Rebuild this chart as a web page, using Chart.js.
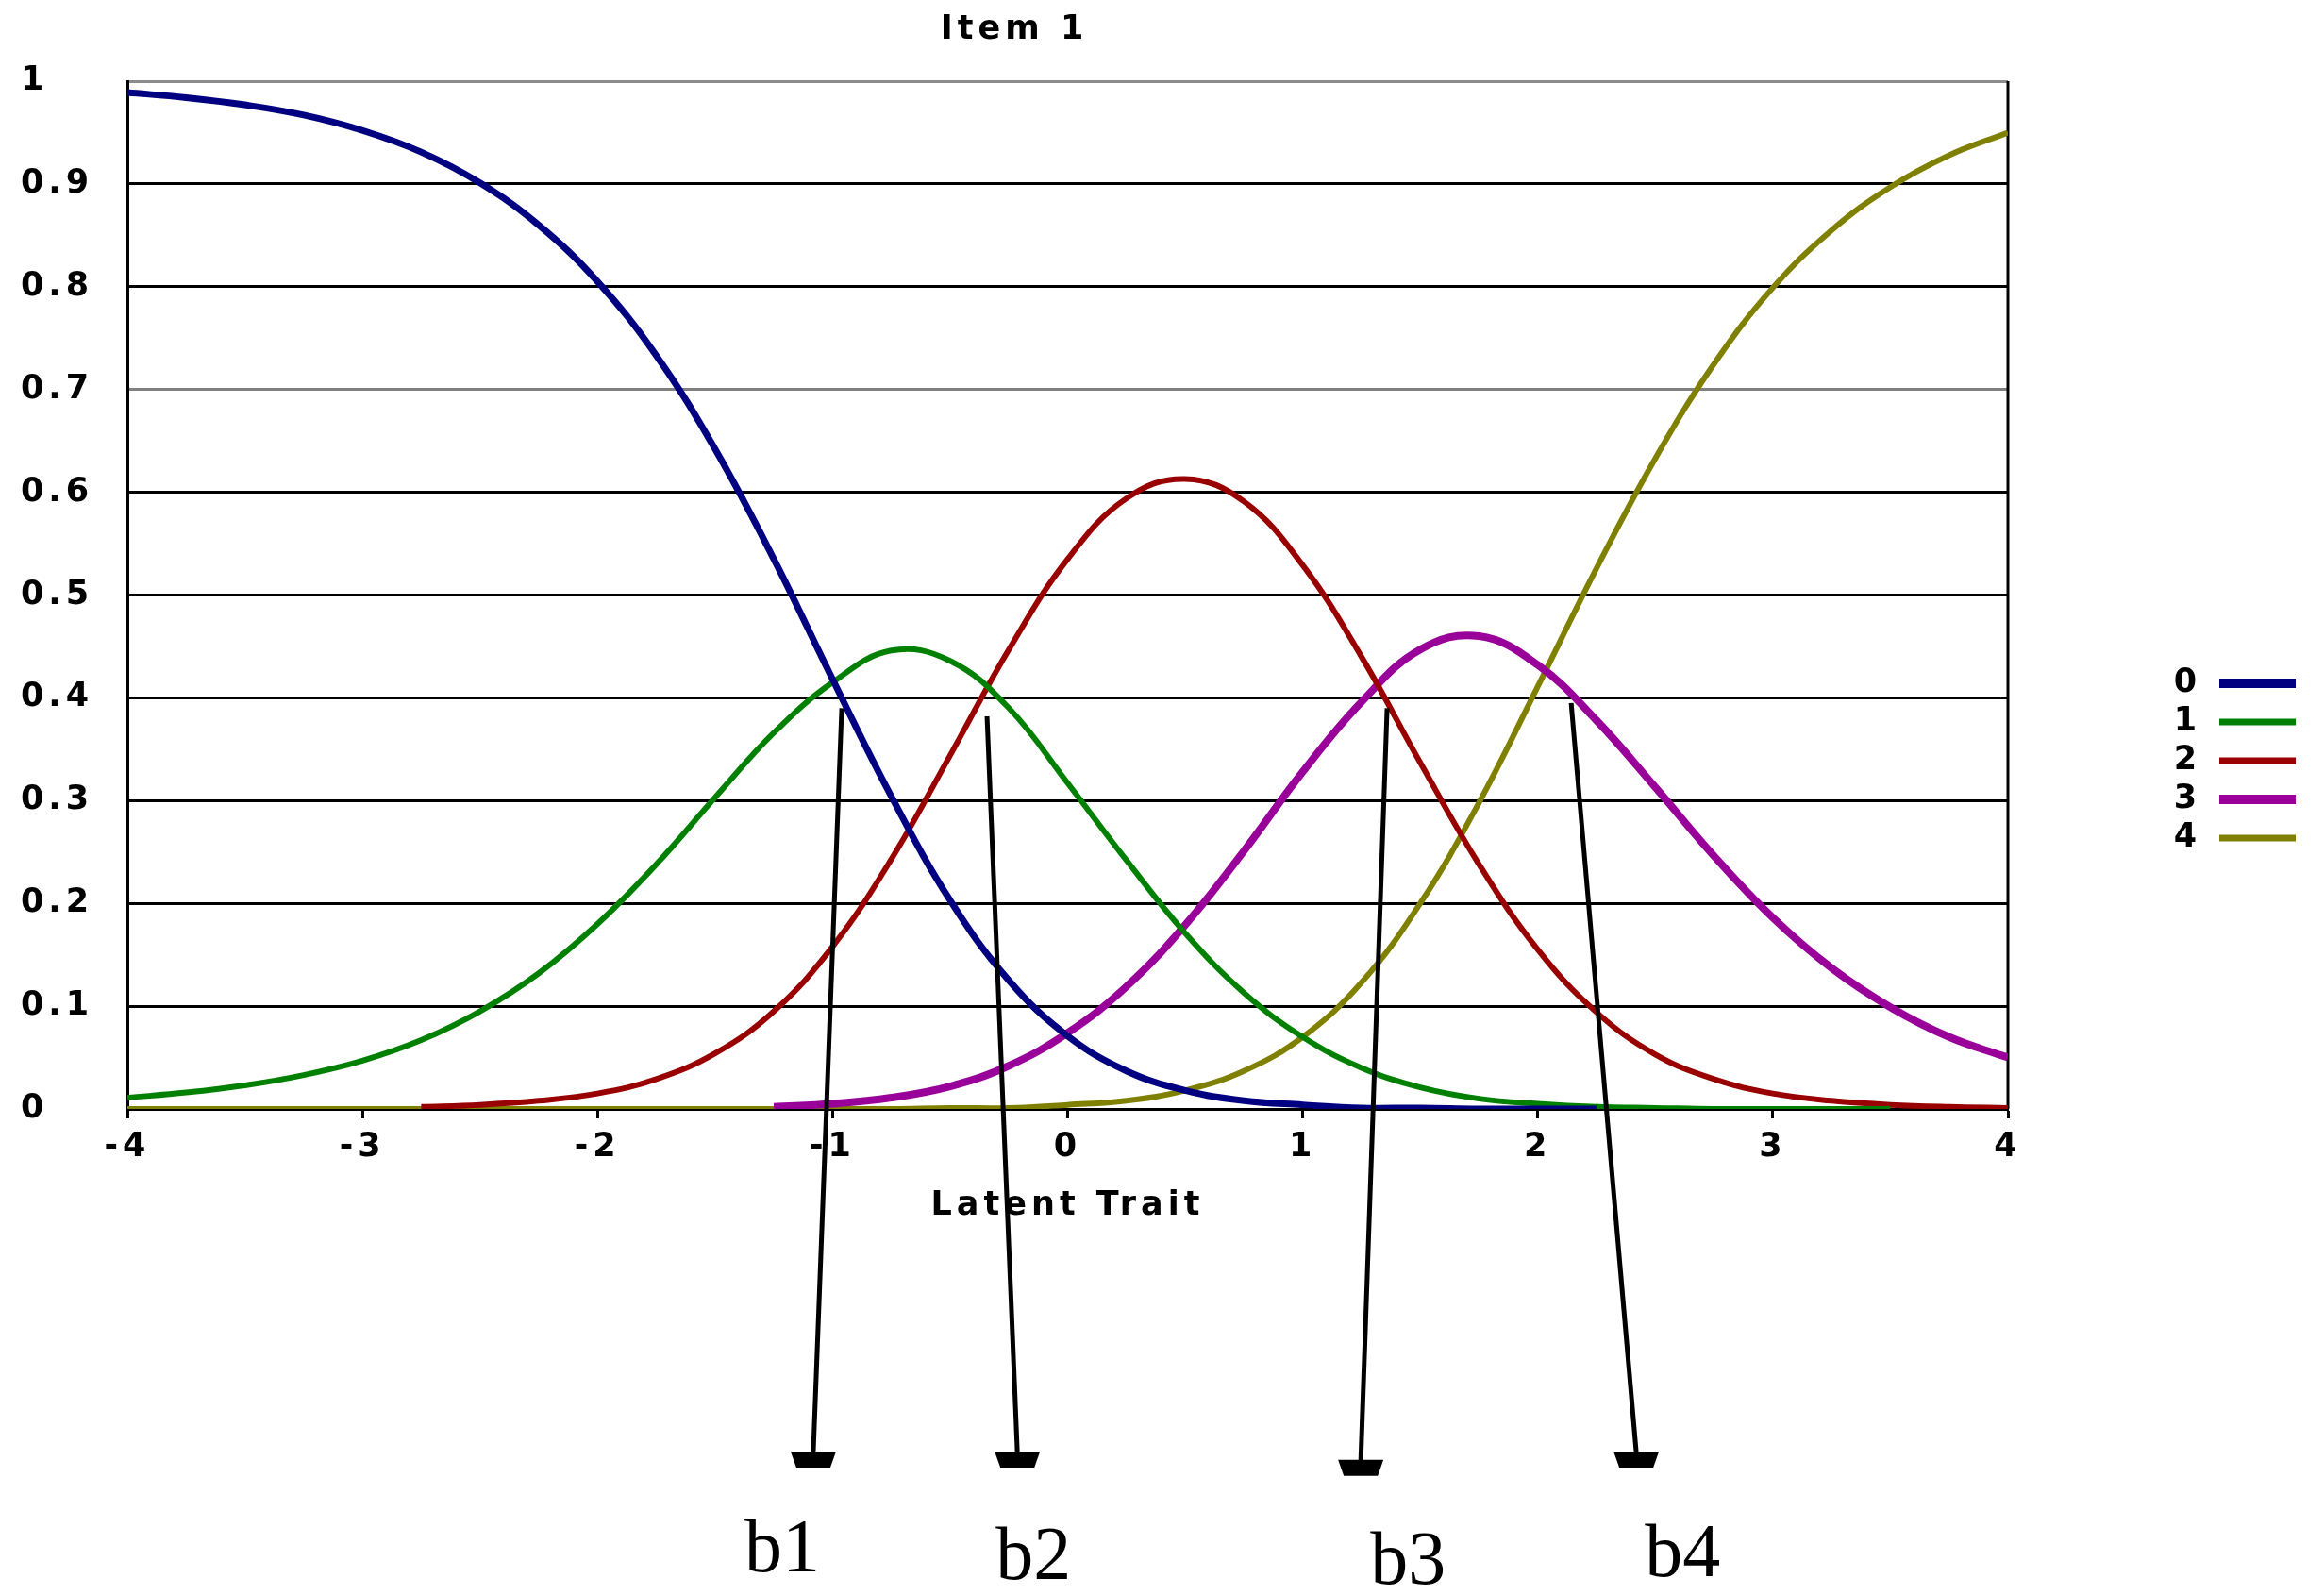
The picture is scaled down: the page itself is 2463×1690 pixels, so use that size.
<!DOCTYPE html>
<html>
<head>
<meta charset="utf-8">
<title>Item 1</title>
<script src="https://cdn.jsdelivr.net/npm/chart.js@4.4.1/dist/chart.umd.min.js"></script>
<style>
  html, body { margin: 0; padding: 0; background: #fff; }
  canvas { display: block; }
</style>
</head>
<body>
<canvas id="itemChart" width="2463" height="1690"></canvas>
<script>
// latent trait grid and category probabilities
const thetas = [-4, -3.75, -3.5, -3.25, -3, -2.75, -2.5, -2.25, -2, -1.75, -1.5, -1.25, -1, -0.75, -0.5, -0.25,
  0, 0.25, 0.5, 0.75, 1, 1.25, 1.5, 1.75, 2, 2.25, 2.5, 2.75, 3, 3.25, 3.5, 3.75, 4];

const cat0 = [0.989, 0.984, 0.977, 0.967, 0.952, 0.931, 0.901, 0.860, 0.805, 0.733, 0.642, 0.535, 0.418, 0.304, 0.203, 0.125,
  0.071, 0.037, 0.018, 0.008, 0.004, 0.001, 0.001, 0, 0, 0, null, null, null, null, null, null, null];
const cat1 = [0.011, 0.016, 0.023, 0.033, 0.047, 0.067, 0.095, 0.132, 0.180, 0.238, 0.303, 0.366, 0.415, 0.446, 0.436, 0.390,
  0.317, 0.242, 0.171, 0.113, 0.070, 0.040, 0.021, 0.010, 0.005, 0.002, 0.001, 0, 0, 0, 0, null, null];
const cat2 = [null, null, null, null, null, 0.002, 0.004, 0.008, 0.015, 0.029, 0.054, 0.095, 0.158, 0.243, 0.344, 0.447,
  0.535, 0.594, 0.613, 0.591, 0.529, 0.440, 0.337, 0.238, 0.155, 0.094, 0.053, 0.029, 0.015, 0.008, 0.004, 0.002, 0.001];
const cat3 = [null, null, null, null, null, null, null, null, null, null, null, 0.002, 0.005, 0.011, 0.022, 0.042,
  0.074, 0.119, 0.179, 0.251, 0.328, 0.396, 0.447, 0.460, 0.432, 0.378, 0.313, 0.246, 0.186, 0.137, 0.099, 0.070, 0.050];
const cat4 = [0, 0, 0, 0, 0, 0, 0, 0, 0, 0, 0, 0, 0, 0, 0.001, 0.001,
  0.004, 0.008, 0.018, 0.037, 0.070, 0.123, 0.200, 0.298, 0.411, 0.526, 0.633, 0.725, 0.799, 0.855, 0.897, 0.928, 0.950];

const seriesLabels = ['0', '1', '2', '3', '4'];
const xTickLabels = ['-4', '-3', '-2', '-1', '0', '1', '2', '3', '4'];
const yTickLabels = ['0', '0.1', '0.2', '0.3', '0.4', '0.5', '0.6', '0.7', '0.8', '0.9', '1'];

// threshold annotations (b1..b4), in axis units
const thresholdNames = ['b1', 'b2', 'b3', 'b4'];
const arrowFromX = [-0.961, -0.343, 1.359, 2.142];
const arrowFromY = [0.390, 0.382, 0.390, 0.395];
const arrowToX = [-1.082, -0.214, 1.247, 2.419];
const arrowToY = [-0.349, -0.349, -0.357, -0.349];
const nameX = [-1.214, -0.146, 1.448, 2.616];
const nameY = [-0.450, -0.457, -0.462, -0.455];

const lineColors = ['#000080', '#008000', '#990000', '#990099', '#808000'];
const lineWidths = [7, 6, 6, 8, 6];
const legendWidths = [10, 7, 7, 10, 7];
const uiFont = { family: 'DejaVu Sans', size: 35, weight: 'bold' };

const series = [cat0, cat1, cat2, cat3, cat4];
const datasets = series.map(function(vals, i) {
    return {
        label: seriesLabels[i],
        data: thetas.map(function(t, j) { return { x: t, y: vals[j] }; }),
        borderColor: lineColors[i],
        backgroundColor: lineColors[i],
        borderWidth: lineWidths[i],
        pointRadius: 0,
        tension: 0.4,
        fill: false
    };
});

function gridColor(v) {
    if (Math.abs(v - 0.7) < 1e-6) return '#808080';
    if (Math.abs(v - 1) < 1e-6) return '#8c8c8c';
    return '#000';
}

const wideText = {
    id: 'wideText',
    beforeLayout(chart) { chart.ctx.letterSpacing = '5px'; },
    beforeDraw(chart) { chart.ctx.letterSpacing = '5px'; }
};

const frame = {
    id: 'frame',
    beforeDatasetsDraw(chart) {
        const ctx = chart.ctx, a = chart.chartArea;
        ctx.save();
        ctx.strokeStyle = '#000';
        ctx.lineWidth = 3;
        ctx.beginPath();
        ctx.moveTo(a.right, a.top);
        ctx.lineTo(a.right, a.bottom);
        ctx.stroke();
        ctx.restore();
    }
};

const sideLegend = {
    id: 'sideLegend',
    afterDraw(chart) {
        const ctx = chart.ctx;
        ctx.save();
        ctx.letterSpacing = '0px';
        ctx.font = 'bold 35px "DejaVu Sans"';
        ctx.textAlign = 'center';
        ctx.textBaseline = 'middle';
        chart.data.datasets.forEach(function(ds, i) {
            const y = 724 + i * 41;
            ctx.fillStyle = '#000';
            ctx.fillText(ds.label, 2316, y);
            ctx.strokeStyle = ds.borderColor;
            ctx.lineWidth = legendWidths[i];
            ctx.beginPath();
            ctx.moveTo(2352, y);
            ctx.lineTo(2433, y);
            ctx.stroke();
        });
        ctx.restore();
    }
};

const thresholdArrows = {
    id: 'thresholdArrows',
    afterDraw(chart) {
        const ctx = chart.ctx, x = chart.scales.x, y = chart.scales.y;
        ctx.save();
        ctx.letterSpacing = '0px';
        thresholdNames.forEach(function(name, i) {
            const x0 = x.getPixelForValue(arrowFromX[i]), y0 = y.getPixelForValue(arrowFromY[i]);
            const x1 = x.getPixelForValue(arrowToX[i]), y1 = y.getPixelForValue(arrowToY[i]);
            ctx.strokeStyle = '#000';
            ctx.lineWidth = 5;
            ctx.beginPath();
            ctx.moveTo(x0, y0);
            ctx.lineTo(x1, y1 - 16);
            ctx.stroke();
            ctx.fillStyle = '#000';
            ctx.beginPath();
            ctx.moveTo(x1 - 24, y1 - 17);
            ctx.lineTo(x1 + 24, y1 - 17);
            ctx.lineTo(x1 + 18, y1);
            ctx.lineTo(x1 - 18, y1);
            ctx.closePath();
            ctx.fill();
            ctx.font = '80px "Liberation Serif"';
            ctx.textAlign = 'center';
            ctx.textBaseline = 'alphabetic';
            ctx.fillText(name, x.getPixelForValue(nameX[i]), y.getPixelForValue(nameY[i]));
        });
        ctx.restore();
    }
};

new Chart(document.getElementById('itemChart').getContext('2d'), {
    type: 'line',
    data: { datasets: datasets },
    options: {
        responsive: false,
        animation: false,
        devicePixelRatio: 1,
        layout: { padding: { left: 22, right: 335, top: 0, bottom: 391 } },
        plugins: {
            legend: { display: false },
            tooltip: { enabled: false },
            title: {
                display: true,
                text: 'Item 1',
                color: '#000',
                font: uiFont,
                padding: { top: 11, bottom: 33 }
            }
        },
        scales: {
            x: {
                type: 'linear',
                min: -4,
                max: 4,
                ticks: {
                    stepSize: 1,
                    color: '#000',
                    font: uiFont,
                    padding: 10,
                    maxRotation: 0,
                    callback: function(v, i) { return xTickLabels[i]; }
                },
                grid: { drawOnChartArea: false, drawTicks: true, tickLength: 10, tickWidth: 3, tickColor: '#000' },
                border: { color: '#000', width: 3 },
                title: { display: true, text: 'Latent Trait', color: '#000', font: uiFont, padding: { top: 0, bottom: 0 } },
                afterFit: function(s) { s.height = 124; }
            },
            y: {
                min: 0,
                max: 1,
                ticks: {
                    stepSize: 0.1,
                    color: '#000',
                    font: uiFont,
                    crossAlign: 'far',
                    padding: 0,
                    callback: function(v, i) { return yTickLabels[i]; }
                },
                grid: {
                    color: function(c) { return gridColor(c.tick.value); },
                    lineWidth: 3,
                    drawTicks: false
                },
                border: { color: '#000', width: 3 },
                afterFit: function(s) { s.width = 113; }
            }
        }
    },
    plugins: [wideText, frame, sideLegend, thresholdArrows]
});
</script>
</body>
</html>
